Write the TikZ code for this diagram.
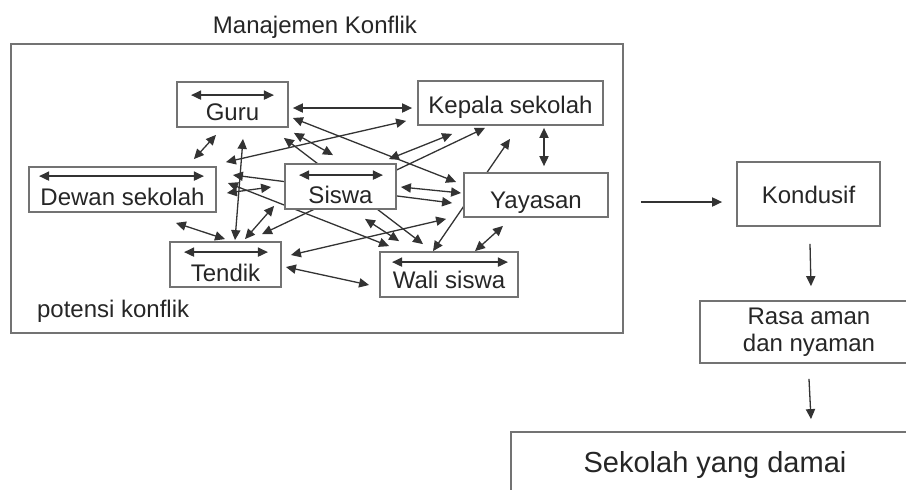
\documentclass[tikz,border=0pt]{standalone}
\usepackage{fontspec}
\setmainfont{Liberation Sans}
\usepackage{tikz}
\usetikzlibrary{arrows.meta, backgrounds}

\tikzset{
  box/.style={draw=black!55, line width=0.9pt, fill=white, inner sep=0pt,
    text=black!85, font=\fontsize{12}{13.6}\selectfont},
  link/.style={{Triangle[length=5pt,width=4.6pt]}-{Triangle[length=5pt,width=4.6pt]},
    black!80, line width=0.65pt},
  onearrow/.style={-{Triangle[length=5pt,width=4.6pt]}, black!80, line width=0.65pt}
}

\begin{document}
\begin{tikzpicture}[x=0.5pt, y=-0.5pt]
\useasboundingbox (0,0) rectangle (906,489);
% frame of the conflict area
\node[draw=black!55, line width=0.9pt, minimum width=306pt, minimum height=144.5pt, inner sep=0pt] (manajemen) at (317,188.5) {};
\node[anchor=base, text=black!85, font=\fontsize{12}{13.6}\selectfont] (judul) at (315,33) {Manajemen Konflik};
\node[anchor=base west, text=black!85, font=\fontsize{12}{13.6}\selectfont] (potensi) at (30,317) {potensi konflik};
% parties
\node[box, minimum width=55.5pt, text height=19pt, text depth=3.5pt] (guru) at (232.5,104.5) {Guru};
\node[box, minimum width=92.5pt, text height=16pt, text depth=6pt] (kepala) at (510.5,103) {Kepala sekolah};
\node[box, minimum width=93.5pt, text height=19pt, text depth=3.5pt] (dewan) at (122.5,189.5) {Dewan sekolah};
\node[box, minimum width=55.5pt, text height=19.5pt, text depth=3pt] (siswa) at (340.5,186.5) {Siswa};
\node[box, minimum width=72pt, text height=17.5pt, text depth=4.5pt] (yayasan) at (536,195) {Yayasan};
\node[box, minimum width=55.5pt, text height=19.5pt, text depth=3pt] (tendik) at (225.5,264.5) {Tendik};
\node[box, minimum width=69pt, text height=18pt, text depth=4.5pt] (wali) at (449,274.5) {Wali siswa};
% outcomes
\node[box, minimum width=71.5pt, text height=20.5pt, text depth=11.5pt] (kondusif) at (808.5,194) {Kondusif};
\node[box, minimum width=109pt, minimum height=31pt, align=center] (rasa) at (809,332) {Rasa aman\\dan nyaman};
\node[box, minimum width=204pt, text height=20pt, text depth=30pt, font=\fontsize{14.5}{17}\selectfont] (sekolah) at (715,482) {Sekolah yang damai};
% conflicts between every pair
\begin{scope}[on background layer]
\draw[link] ([shift={(4,3.5)}]guru.east) -- ([shift={(-5,5)}]kepala.west);
\draw[link] ([shift={(-16.5,7)}]guru.south) -- ([shift={(-23,-7)}]dewan.north east);
\draw[link] ([shift={(10.5,11)}]guru.south) -- ([shift={(9.5,-1)}]tendik.north);
\draw[link] ([shift={(4,13.5)}]guru.east) -- ([shift={(-7,-13)}]yayasan.west);
\draw[link] ([shift={(5,5)}]guru.south east) -- ([shift={(-7.5,-8)}]siswa.north);
\draw[link] ([shift={(-5,10)}]guru.south east) -- ([shift={(-26,-7)}]wali.north);
\draw[link] ([shift={(9,-4)}]dewan.north east) -- ([shift={(-11,-5)}]kepala.south west);
\draw[link] ([shift={(16,-14.5)}]dewan.east) -- ([shift={(-11,8)}]yayasan.west);
\draw[link] ([shift={(11,-6.5)}]dewan.east) -- ([shift={(10,-5)}]wali.north west);
\draw[link] ([shift={(10,3.5)}]dewan.east) -- ([shift={(-13,0.5)}]siswa.west);
\draw[link] ([shift={(-41,10)}]dewan.south east) -- ([shift={(-0.5,-2)}]tendik.north);
\draw[link] ([shift={(19.5,-2)}]tendik.north) -- ([shift={(-10,-4)}]siswa.south west);
\draw[link] ([shift={(36.5,-7)}]tendik.north) -- ([shift={(-25.5,2)}]kepala.south);
\draw[link] ([shift={(9,-9.5)}]tendik.east) -- ([shift={(-17,1)}]yayasan.south west);
\draw[link] ([shift={(4,2.5)}]tendik.east) -- ([shift={(-10,10.5)}]wali.west);
\draw[link] ([shift={(24.5,9)}]siswa.south) -- ([shift={(20,-10)}]wali.north west);
\draw[link] ([shift={(4,0.5)}]siswa.east) -- ([shift={(-2,-2)}]yayasan.west);
\draw[link] ([shift={(-8,-4)}]siswa.north east) -- ([shift={(35,8)}]kepala.south west);
\draw[link] ([shift={(33.5,2)}]kepala.south) -- ([shift={(8,-6)}]yayasan.north);
\draw[link] ([shift={(-0.5,13)}]kepala.south) -- ([shift={(-16,0)}]wali.north);
\draw[link] ([shift={(-33,8)}]yayasan.south) -- ([shift={(26,0)}]wali.north);
\end{scope}
% conflicts inside a group
\draw[link] ([shift={(15,14)}]guru.north west) -- ([shift={(-15,14)}]guru.north east);
\draw[link] ([shift={(11,10)}]dewan.north west) -- ([shift={(-13,10)}]dewan.north east);
\draw[link] ([shift={(15,12)}]siswa.north west) -- ([shift={(-14,12)}]siswa.north east);
\draw[link] ([shift={(15,11)}]tendik.north west) -- ([shift={(-14,11)}]tendik.north east);
\draw[link] ([shift={(13,11)}]wali.north west) -- ([shift={(-11,11)}]wali.north east);
% result chain
\draw[onearrow] ([shift={(17,13.5)}]manajemen.east) -- ([shift={(-14,8)}]kondusif.west);
\draw[onearrow] ([shift={(1.5,17)}]kondusif.south) -- ([shift={(2,-14)}]rasa.north);
\draw[onearrow] ([shift={(0,15)}]rasa.south) -- ([shift={(96,-12)}]sekolah.north);
\end{tikzpicture}
\end{document}
